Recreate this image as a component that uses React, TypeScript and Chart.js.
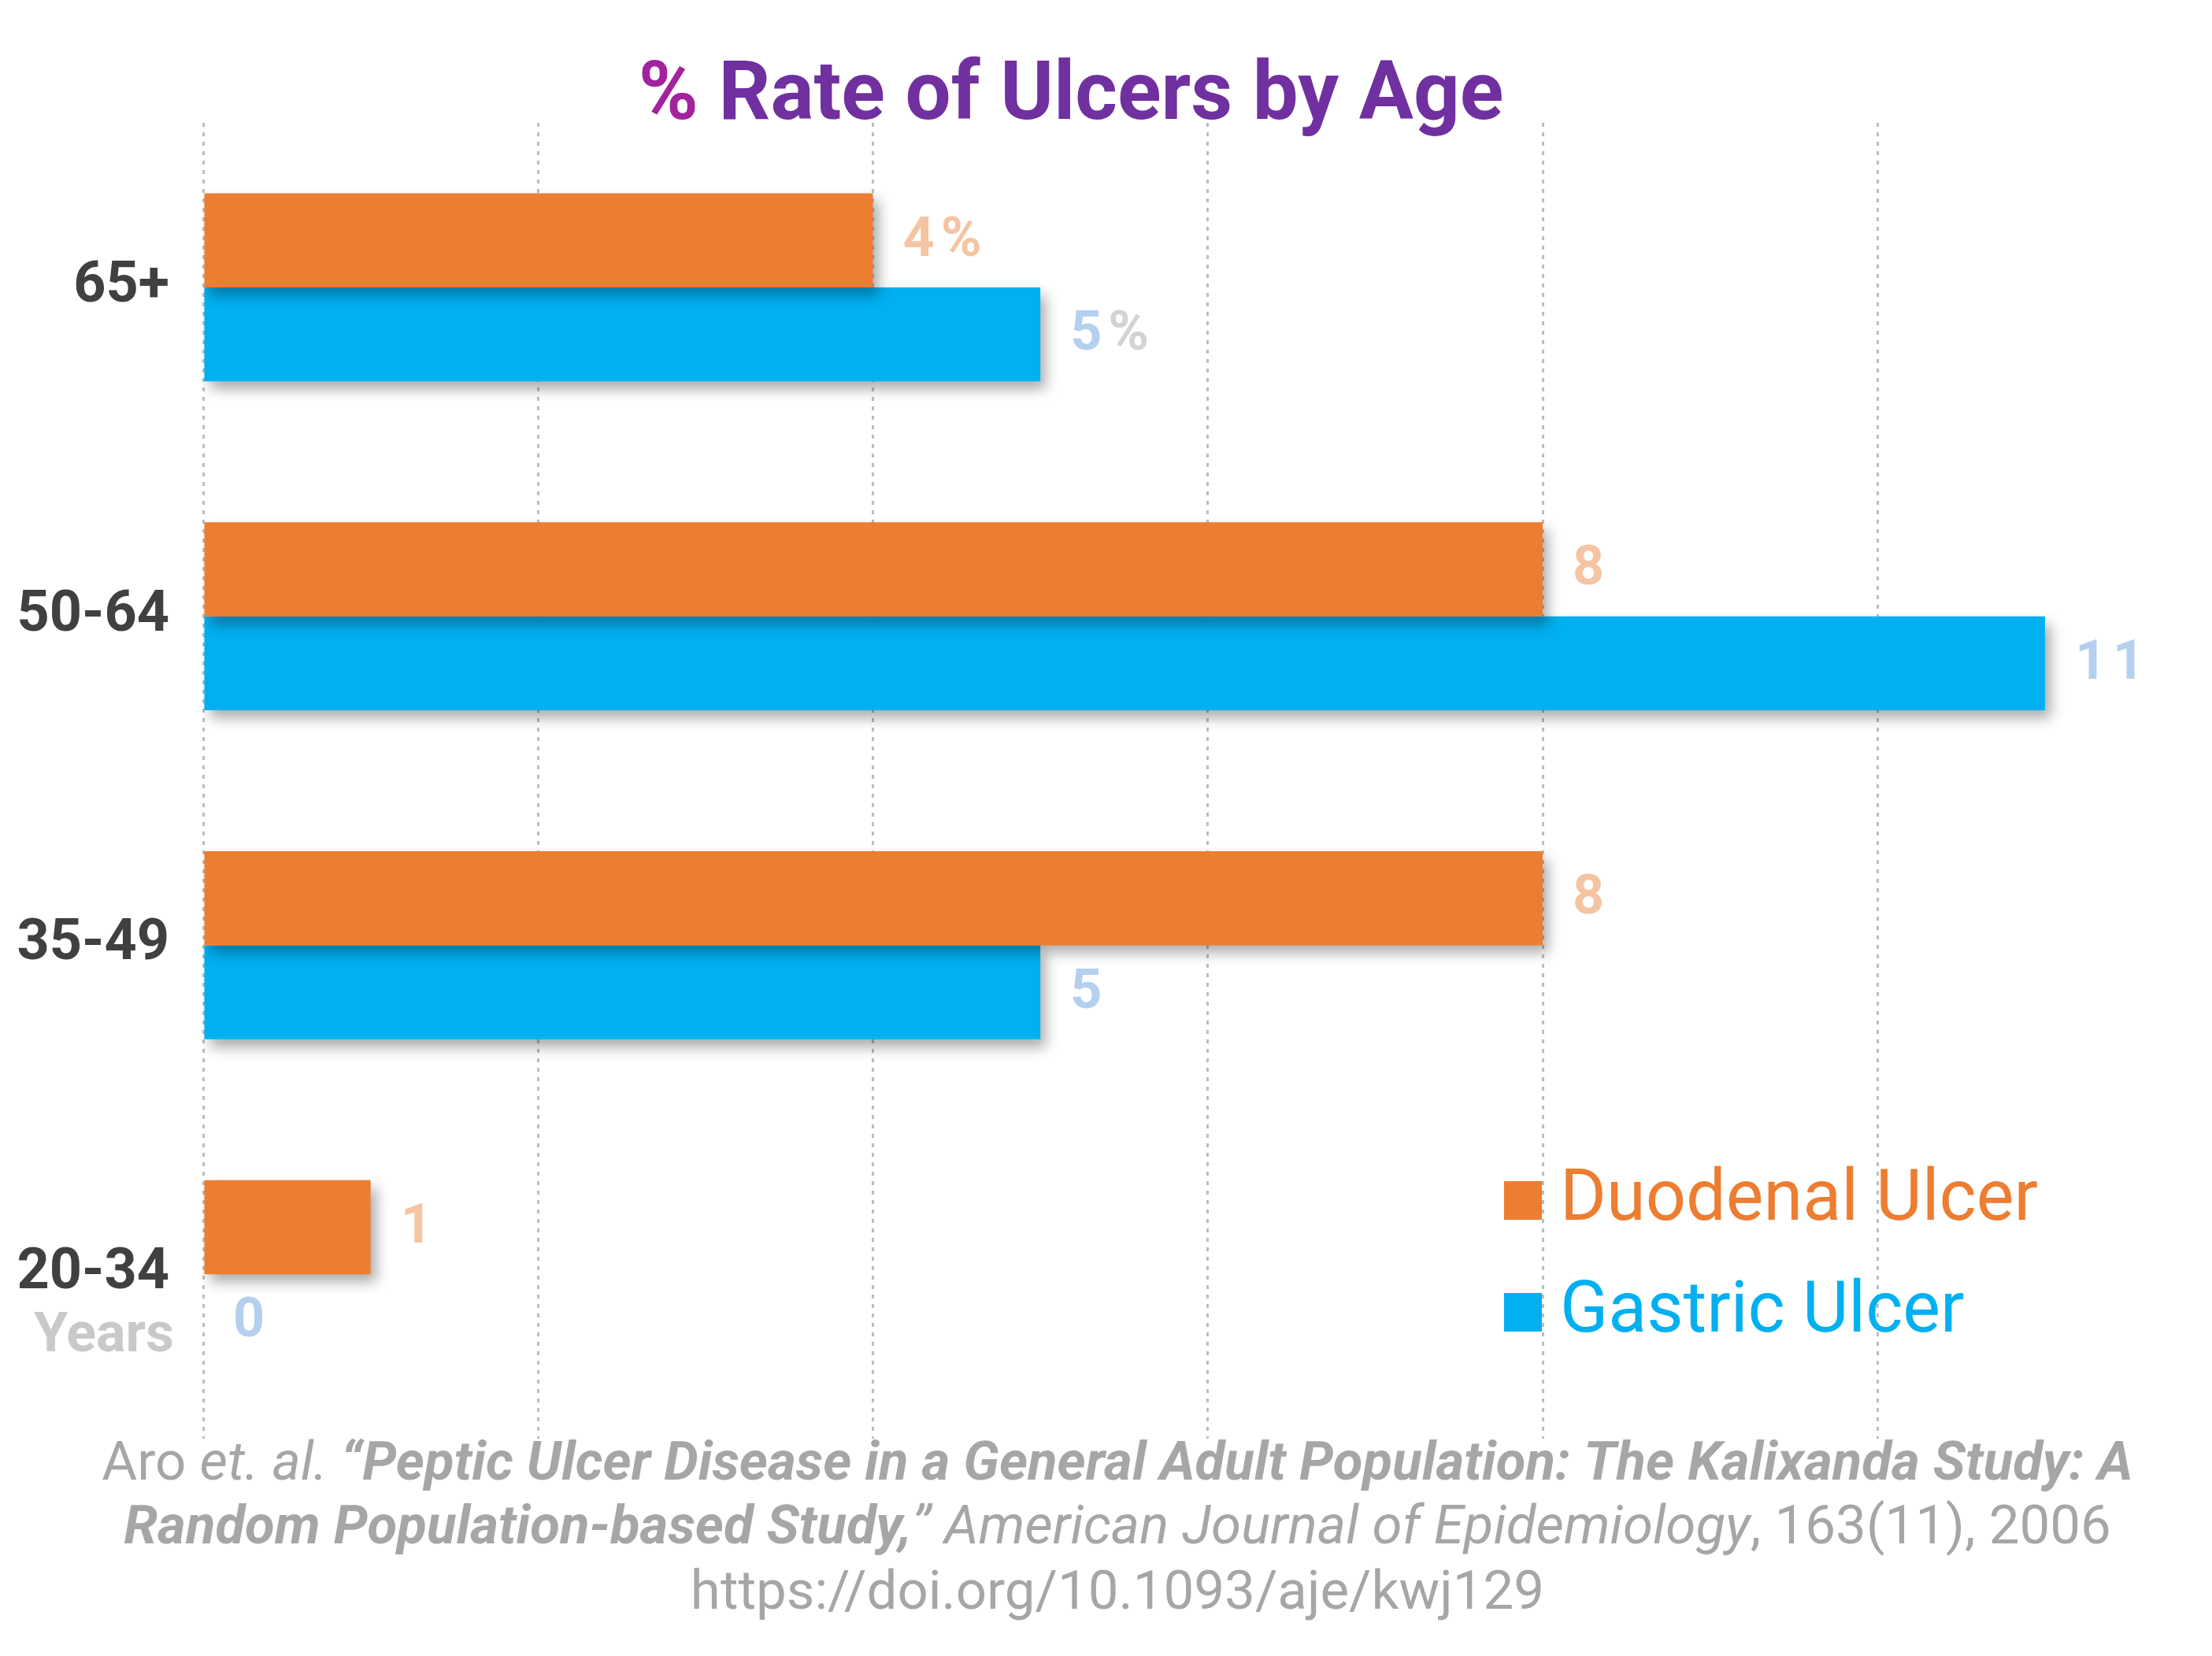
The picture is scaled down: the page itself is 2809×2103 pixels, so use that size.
import React, { useEffect, useRef } from "react";
import { Chart, registerables } from "chart.js";

Chart.register(...registerables);

const categories = ["65+", "50-64", "35-49", "20-34"];
const duodenalValues = [4, 8, 8, 1];
const gastricValues = [5, 11, 5, 0];
const labelSuffix = ["%", "", "", ""];
const seriesNames = ["Duodenal Ulcer", "Gastric Ulcer"];
const xTickStep = 2;

const W = 2809;
const H = 2103;
const FONT = "Roboto";

const ORANGE = "#ed7d31";
const BLUE = "#00b0f0";

type Seg = [string, string];
const citationLines: Seg[][] = [
  [
    ["Aro ", "normal"],
    ["et. al. ", "italic"],
    ["“Peptic Ulcer Disease in a General Adult Population: The Kalixanda Study: A", "italic bold"],
  ],
  [
    ["Random Population-based Study,", "italic bold"],
    ["” American Journal of Epidemiology", "italic"],
    [", 163(11), 2006", "normal"],
  ],
  [["https://doi.org/10.1093/aje/kwj129", "normal"]],
];

const decorPlugin = {
  id: "decor",
  beforeDatasetsDraw(chart: any) {
    const ctx = chart.ctx;
    ctx.save();
    ctx.shadowColor = "rgba(0,0,0,0.33)";
    ctx.shadowBlur = 16;
    ctx.shadowOffsetX = 7;
    ctx.shadowOffsetY = 10;
  },
  afterDatasetsDraw(chart: any) {
    const ctx = chart.ctx;
    ctx.restore();
    const labelColors = [["#f5c4a2", "#f5c4a2"], ["#b5d0ee", "#d3d3d3"]];
    chart.data.datasets.forEach((ds: any, di: number) => {
      const meta = chart.getDatasetMeta(di);
      meta.data.forEach((bar: any, i: number) => {
        const v = String(ds.data[i]);
        const suf = labelSuffix[i];
        ctx.save();
        ctx.font = `bold 70px ${FONT}`;
        (ctx as any).letterSpacing = "8px";
        ctx.textBaseline = "middle";
        ctx.textAlign = "left";
        const x = bar.x + 38;
        ctx.fillStyle = labelColors[di][0];
        ctx.fillText(v, x, bar.y + 2);
        if (suf) {
          const w = ctx.measureText(v).width;
          ctx.fillStyle = labelColors[di][1];
          ctx.fillText(suf, x + w, bar.y + 2);
        }
        ctx.restore();
      });
    });
  },
  afterDraw(chart: any) {
    const ctx = chart.ctx;
    const yScale = chart.scales.y;
    ctx.save();
    // Title
    ctx.font = `bold 103px ${FONT}`;
    ctx.textBaseline = "alphabetic";
    ctx.textAlign = "left";
    const t1 = "%";
    const t2 = " Rate of Ulcers by Age";
    const w1 = ctx.measureText(t1).width;
    const w2 = ctx.measureText(t2).width;
    const tx = 1360 - (w1 + w2) / 2;
    ctx.fillStyle = "#a3229e";
    ctx.fillText(t1, tx, 151);
    ctx.fillStyle = "#7030a0";
    ctx.fillText(t2, tx + w1, 151);

    // "Years" under last category label
    const lastY = yScale.getPixelForValue(categories.length - 1);
    ctx.font = `bold 70px ${FONT}`;
    ctx.textAlign = "right";
    ctx.textBaseline = "middle";
    ctx.fillStyle = "#c9c9c9";
    ctx.fillText("Years", 221, lastY + 80);

    // Legend
    const legendColors = [ORANGE, BLUE];
    const legendYs = [1524, 1666];
    seriesNames.forEach((name, i) => {
      ctx.fillStyle = legendColors[i];
      ctx.fillRect(1910, legendYs[i] - 24, 48, 49);
      ctx.font = `90px ${FONT}`;
      ctx.textAlign = "left";
      ctx.textBaseline = "middle";
      ctx.fillText(name, 1981, legendYs[i] + 2);
    });

    // Citation
    const lineYs = [1862, 1943, 2026];
    ctx.fillStyle = "#a6a6a6";
    ctx.textBaseline = "middle";
    ctx.textAlign = "left";
    citationLines.forEach((segs, li) => {
      let total = 0;
      const widths = segs.map(([txt, st]) => {
        ctx.font = `${st} 69px ${FONT}`;
        const w = ctx.measureText(txt).width;
        total += w;
        return w;
      });
      let x = 1419 - total / 2;
      segs.forEach(([txt, st], si) => {
        ctx.font = `${st} 69px ${FONT}`;
        ctx.fillText(txt, x, lineYs[li]);
        x += widths[si];
      });
    });
    ctx.restore();
  },
};

export default function App() {
  const ref = useRef<HTMLCanvasElement | null>(null);

  useEffect(() => {
    document.body.style.margin = "0";
    document.body.style.overflow = "hidden";
    let chart: Chart | null = null;
    let cancelled = false;
    const fontsReady = (document as any).fonts
      ? Promise.all([
          (document as any).fonts.load(`bold 70px ${FONT}`),
          (document as any).fonts.load(`70px ${FONT}`),
          (document as any).fonts.load(`italic 70px ${FONT}`),
          (document as any).fonts.load(`italic bold 70px ${FONT}`),
        ]).catch(() => null)
      : Promise.resolve(null);
    fontsReady.then(() => {
      if (cancelled || !ref.current) return;
      chart = new Chart(ref.current, {
        type: "bar",
        data: {
          labels: categories,
          datasets: [
            {
              label: seriesNames[0],
              data: duodenalValues,
              backgroundColor: ORANGE,
              borderWidth: 0,
            },
            {
              label: seriesNames[1],
              data: gastricValues,
              backgroundColor: BLUE,
              borderWidth: 0,
            },
          ],
        },
        options: {
          indexAxis: "y",
          animation: false,
          responsive: false,
          maintainAspectRatio: false,
          devicePixelRatio: 1,
          layout: { padding: { top: 156, bottom: 276, left: 0, right: 42 } },
          datasets: {
            bar: { barPercentage: 1, categoryPercentage: 0.572 },
          },
          plugins: {
            legend: { display: false },
            title: { display: false },
            tooltip: { enabled: false },
          },
          scales: {
            x: {
              min: 0,
              max: 11.8,
              ticks: { display: false, stepSize: xTickStep },
              afterBuildTicks: (scale: any) => {
                scale.ticks = scale.ticks.filter(
                  (t: any) => Math.abs(t.value / xTickStep - Math.round(t.value / xTickStep)) < 1e-6
                );
              },
              grid: {
                color: "#bdbdbd",
                lineWidth: 3,
                drawTicks: false,
              },
              border: { display: false, dash: [5, 7] },
            },
            y: {
              afterFit: (scale: any) => {
                scale.width = 258;
              },
              ticks: {
                color: "#404040",
                font: { family: FONT, size: 72, weight: "bold" },
                padding: 43,
              },
              grid: { display: false, drawTicks: false },
              border: { display: false },
            },
          },
        },
        plugins: [decorPlugin],
      } as any);
    });
    return () => {
      cancelled = true;
      if (chart) chart.destroy();
    };
  }, []);

  return (
    <div style={{ width: W, height: H, background: "#fff" }}>
      <canvas ref={ref} width={W} height={H} style={{ display: "block", width: W, height: H }} />
    </div>
  );
}
